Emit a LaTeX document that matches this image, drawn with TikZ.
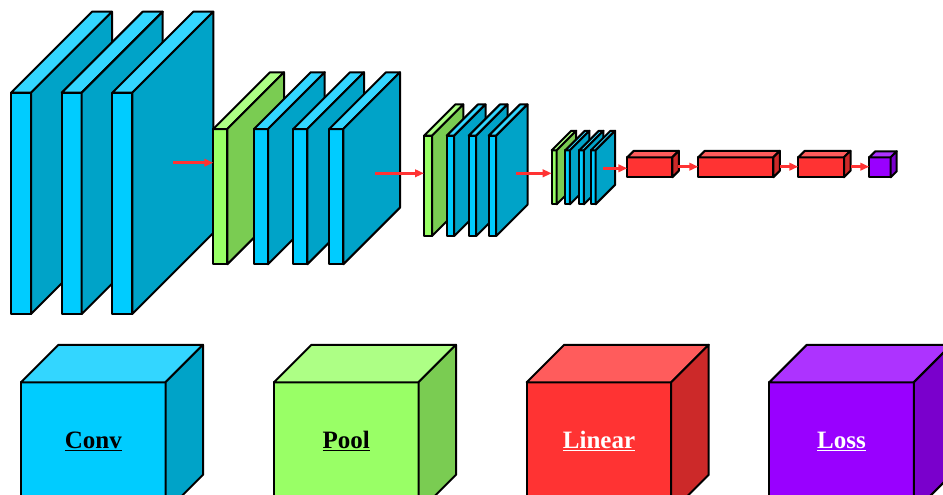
\documentclass[tikz,border=0pt]{standalone}
\usepackage{fontspec}
\setmainfont{Liberation Serif}
\usepackage{tikz}
\usetikzlibrary{arrows.meta,positioning,calc}

\definecolor{convfront}{HTML}{00CCFF}
\definecolor{convtop}{HTML}{33D6FF}
\definecolor{convside}{HTML}{00A3C8}
\definecolor{poolfront}{HTML}{99FF66}
\definecolor{pooltop}{HTML}{ADFF85}
\definecolor{poolside}{HTML}{7ACC52}
\definecolor{linfront}{HTML}{FF3333}
\definecolor{lintop}{HTML}{FF5C5C}
\definecolor{linside}{HTML}{CC2929}
\definecolor{lossfront}{HTML}{9900FF}
\definecolor{losstop}{HTML}{AD33FF}
\definecolor{lossside}{HTML}{7A00CC}
\definecolor{flowred}{HTML}{FF3333}

\tikzset{
  box/.style={draw=black,line width=2pt,line join=round},
  flow/.style={draw=flowred,line width=2.6pt,-{Triangle[length=9pt,width=7.5pt]}},
  lbl/.style={font=\fontsize{25}{30}\selectfont\bfseries,anchor=base,inner sep=0pt}
}

% #1 name, #2 x, #3 y (front top), #4 width, #5 height, #6 depth, #7 colour
\newcommand{\cuboid}[7]{%
  \draw[box,fill=#7front] (#2,#3) rectangle ++(#4,#5);
  \draw[box,fill=#7top] (#2,#3) -- ++(#6,-#6) -- ++(#4,0) -- ++(-#6,#6) -- cycle;
  \draw[box,fill=#7side] (#2+#4,#3) -- ++(#6,-#6) -- ++(0,#5) -- ++(-#6,#6) -- cycle;
  \coordinate (#1-w) at (#2,#3+#5/2);
}

\begin{document}
\begin{tikzpicture}[x=1pt,y=-1pt]
  \useasboundingbox (0,0) rectangle (943,495);
  \clip (0,0) rectangle (943,495);

  % stage 1
  \cuboid{c1}{11}{92.7}{20}{221.3}{81}{conv}
  \cuboid{c2}{61.7}{92.7}{20}{221.3}{81}{conv}
  \cuboid{c3}{112.3}{92.7}{20}{221.3}{81}{conv}
  % stage 2
  \cuboid{p1}{213.3}{129}{14}{135.3}{56.7}{pool}
  \cuboid{c4}{254}{129}{14}{135.3}{56.7}{conv}
  \cuboid{c5}{293.3}{129}{14}{135.3}{56.7}{conv}
  \cuboid{c6}{329.3}{129}{14}{135.3}{56.7}{conv}
  % stage 3
  \cuboid{p2}{424}{135.7}{8}{100.3}{31.3}{pool}
  \cuboid{c7}{446.7}{135.7}{7.5}{100.3}{31.3}{conv}
  \cuboid{c8}{468.7}{135.7}{7.5}{100.3}{31.3}{conv}
  \cuboid{c9}{488.7}{135.7}{7.5}{100.3}{31.3}{conv}
  % stage 4
  \cuboid{p3}{551.7}{150.3}{5}{54}{19.5}{pool}
  \cuboid{c10}{565.3}{150.3}{4.6}{54}{19.5}{conv}
  \cuboid{c11}{579.3}{150.3}{4.6}{54}{19.5}{conv}
  \cuboid{c12}{591}{150.3}{4.6}{54}{19.5}{conv}
  % linear + loss
  \cuboid{l1}{627.3}{157.3}{45}{20}{6.5}{lin}
  \cuboid{l2}{698.3}{157.3}{75}{20}{6.5}{lin}
  \cuboid{l3}{798.3}{157.3}{45.7}{20}{6.5}{lin}
  \cuboid{ls}{869.3}{157.3}{21.4}{20}{6}{loss}

  \coordinate (o1) at (173.3,162.7);
  \coordinate (o2) at (375,173.3);
  \coordinate (o3) at (516,173.3);
  \coordinate (o4) at (603.3,168.3);
  \coordinate (o5) at (678.3,166.7);
  \coordinate (o6) at (780,166.7);
  \coordinate (o7) at (850.7,166.7);
  \draw[flow] (o1) -- (o1 -| p1-w);
  \draw[flow] (o2) -- (o2 -| p2-w);
  \draw[flow] (o3) -- (o3 -| p3-w);
  \draw[flow] (o4) -- (o4 -| l1-w);
  \draw[flow] (o5) -- (o5 -| l2-w);
  \draw[flow] (o6) -- (o6 -| l3-w);
  \draw[flow] (o7) -- (o7 -| ls-w);

  % legend
  \cuboid{kconv}{21}{382.3}{144.5}{130}{37.5}{conv}
  \cuboid{kpool}{274}{382.3}{144.5}{130}{37.5}{pool}
  \cuboid{klin}{526.7}{382.3}{144.5}{130}{37.5}{lin}
  \cuboid{kloss}{769.3}{382.3}{144.5}{130}{37.5}{loss}
  \node[lbl] (tconv) at (93.3,448.5) {\underline{Conv}};
  \node[lbl] (tpool) at (346.3,448.5) {\underline{Pool}};
  \node[lbl,text=white] (tlin) at (599,448.5) {\underline{Linear}};
  \node[lbl,text=white] (tloss) at (841.5,448.5) {\underline{Loss}};
\end{tikzpicture}
\end{document}
